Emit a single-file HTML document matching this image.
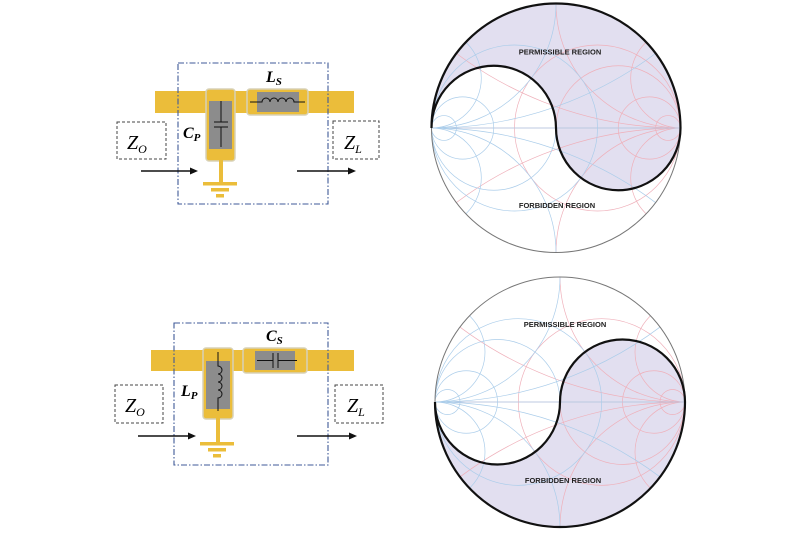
<!DOCTYPE html>
<html><head><meta charset="utf-8"><style>
html,body{margin:0;padding:0;background:#fff;width:800px;height:533px;overflow:hidden;}
svg{display:block;}
</style></head><body>
<svg width="800" height="533" viewBox="0 0 800 533" xmlns="http://www.w3.org/2000/svg">
<defs>
<clipPath id="uc"><circle cx="0" cy="0" r="1"/></clipPath>
<g id="imp" fill="none">
  <circle cx="0.3333" cy="0" r="0.6667" vector-effect="non-scaling-stroke"/>
  <circle cx="0.5" cy="0" r="0.5" vector-effect="non-scaling-stroke"/>
  <circle cx="0.75" cy="0" r="0.25" vector-effect="non-scaling-stroke"/>
  <circle cx="0.9" cy="0" r="0.1" vector-effect="non-scaling-stroke"/>
  <circle cx="1" cy="3" r="3" vector-effect="non-scaling-stroke"/>
  <circle cx="1" cy="-3" r="3" vector-effect="non-scaling-stroke"/>
  <circle cx="1" cy="1" r="1" vector-effect="non-scaling-stroke"/>
  <circle cx="1" cy="-1" r="1" vector-effect="non-scaling-stroke"/>
  <circle cx="1" cy="0.4" r="0.4" vector-effect="non-scaling-stroke"/>
  <circle cx="1" cy="-0.4" r="0.4" vector-effect="non-scaling-stroke"/>
  <line x1="-1" y1="0" x2="1" y2="0" vector-effect="non-scaling-stroke"/>
</g>
<g id="grid" clip-path="url(#uc)">
  <use href="#imp" stroke="#efb0ba" stroke-width="0.7"/>
  <use href="#imp" stroke="#abcdea" stroke-width="0.7" transform="scale(-1,1)"/>
</g>
</defs>

<!-- TOP SMITH -->
<g transform="translate(556,128) scale(124.5)">
  <path d="M -1 0 A 1 1 0 0 1 1 0 A 0.5 0.5 0 0 1 0 0 A 0.5 0.5 0 0 0 -1 0 Z" fill="#e2dff0"/>
  <use href="#grid"/>
  <circle cx="0" cy="0" r="1" fill="none" stroke="#777" stroke-width="1" vector-effect="non-scaling-stroke"/>
  <path d="M -1 0 A 1 1 0 0 1 1 0 A 0.5 0.5 0 0 1 0 0 A 0.5 0.5 0 0 0 -1 0 Z" fill="none" stroke="#111" stroke-width="2.2" vector-effect="non-scaling-stroke"/>
</g>
<text x="560" y="54.5" font-family="Liberation Sans, sans-serif" font-size="7.5" font-weight="bold" fill="#222" text-anchor="middle">PERMISSIBLE REGION</text>
<text x="557" y="208" font-family="Liberation Sans, sans-serif" font-size="7.5" font-weight="bold" fill="#222" text-anchor="middle">FORBIDDEN REGION</text>

<!-- BOTTOM SMITH -->
<g transform="translate(560,402) scale(125)">
  <path d="M -1 0 A 1 1 0 0 0 1 0 A 0.5 0.5 0 0 0 0 0 A 0.5 0.5 0 0 1 -1 0 Z" fill="#e2dff0"/>
  <use href="#grid"/>
  <circle cx="0" cy="0" r="1" fill="none" stroke="#777" stroke-width="1" vector-effect="non-scaling-stroke"/>
  <path d="M -1 0 A 1 1 0 0 0 1 0 A 0.5 0.5 0 0 0 0 0 A 0.5 0.5 0 0 1 -1 0 Z" fill="none" stroke="#111" stroke-width="2.2" vector-effect="non-scaling-stroke"/>
</g>
<text x="565" y="327" font-family="Liberation Sans, sans-serif" font-size="7.5" font-weight="bold" fill="#222" text-anchor="middle">PERMISSIBLE REGION</text>
<text x="563" y="483" font-family="Liberation Sans, sans-serif" font-size="7.5" font-weight="bold" fill="#222" text-anchor="middle">FORBIDDEN REGION</text>

<!-- TOP CIRCUIT -->
<g>
  <rect x="155" y="91" width="199" height="22" fill="#ebbd3a"/>
  <rect x="206" y="89" width="29" height="72" rx="3" fill="#ebbd3a" stroke="#d8d2b8" stroke-width="1.5"/>
  <rect x="209" y="101" width="23" height="48" fill="#8c8c8c"/>
  <line x1="221" y1="101" x2="221" y2="122" stroke="#111" stroke-width="1"/>
  <line x1="214" y1="122" x2="228" y2="122" stroke="#111" stroke-width="1"/>
  <line x1="214" y1="127" x2="228" y2="127" stroke="#111" stroke-width="1"/>
  <line x1="221" y1="127" x2="221" y2="147" stroke="#111" stroke-width="1"/>
  <rect x="219" y="160" width="4" height="23" fill="#ebbd3a"/>
  <rect x="203" y="182" width="34" height="3.5" fill="#ebbd3a"/>
  <rect x="211" y="188" width="18" height="3.5" fill="#ebbd3a"/>
  <rect x="216" y="194" width="8" height="3.5" fill="#ebbd3a"/>
  <rect x="247" y="89" width="61" height="26" rx="3" fill="#ebbd3a" stroke="#d8d2b8" stroke-width="1.5"/>
  <rect x="257" y="92" width="42" height="20" fill="#8c8c8c"/>
  <path d="M250 102 H262 a4 4 0 0 1 8 0 a4 4 0 0 1 8 0 a4 4 0 0 1 8 0 a4 4 0 0 1 8 0 H305" fill="none" stroke="#111" stroke-width="1"/>
  <rect x="178" y="63" width="150" height="141" fill="none" stroke="#3f5a98" stroke-width="1.1" stroke-dasharray="6,2,1.5,2"/>
  <rect x="117" y="122" width="49" height="37" fill="none" stroke="#444" stroke-width="1" stroke-dasharray="3,2"/>
  <rect x="333" y="121" width="46" height="38" fill="none" stroke="#444" stroke-width="1" stroke-dasharray="3,2"/>
  <text x="127" y="149" font-family="Liberation Serif, serif" font-size="20" font-style="italic">Z<tspan font-size="12" dy="4">O</tspan></text>
  <text x="344" y="149" font-family="Liberation Serif, serif" font-size="20" font-style="italic">Z<tspan font-size="12" dy="4">L</tspan></text>
  <text x="266" y="82" font-family="Liberation Serif, serif" font-size="16" font-style="italic" font-weight="bold">L<tspan font-size="11" dy="3">S</tspan></text>
  <text x="183" y="138" font-family="Liberation Serif, serif" font-size="16" font-style="italic" font-weight="bold">C<tspan font-size="11" dy="3">P</tspan></text>
  <line x1="141" y1="171" x2="192" y2="171" stroke="#111" stroke-width="1.5"/>
  <polygon points="198,171 190,167.5 190,174.5" fill="#111"/>
  <line x1="297" y1="171" x2="350" y2="171" stroke="#111" stroke-width="1.5"/>
  <polygon points="356,171 348,167.5 348,174.5" fill="#111"/>
</g>

<!-- BOTTOM CIRCUIT -->
<g>
  <rect x="151" y="350" width="203" height="21" fill="#ebbd3a"/>
  <rect x="203" y="348" width="30" height="71" rx="3" fill="#ebbd3a" stroke="#d8d2b8" stroke-width="1.5"/>
  <rect x="206" y="361" width="24" height="48" fill="#8c8c8c"/>
  <path d="M218 352 V366 a4 4 0 0 1 0 8 a4 4 0 0 1 0 8 a4 4 0 0 1 0 8 a4 4 0 0 1 0 8 V411" fill="none" stroke="#111" stroke-width="1"/>
  <rect x="216" y="418" width="4" height="25" fill="#ebbd3a"/>
  <rect x="200" y="442" width="34" height="3.5" fill="#ebbd3a"/>
  <rect x="208" y="448" width="18" height="3.5" fill="#ebbd3a"/>
  <rect x="213" y="454" width="8" height="3.5" fill="#ebbd3a"/>
  <rect x="243" y="348" width="64" height="25" rx="3" fill="#ebbd3a" stroke="#d8d2b8" stroke-width="1.5"/>
  <rect x="255" y="351" width="40" height="19" fill="#8c8c8c"/>
  <line x1="257" y1="360.5" x2="273" y2="360.5" stroke="#111" stroke-width="1"/>
  <line x1="273" y1="353" x2="273" y2="368" stroke="#111" stroke-width="1"/>
  <line x1="278" y1="353" x2="278" y2="368" stroke="#111" stroke-width="1"/>
  <line x1="278" y1="360.5" x2="297" y2="360.5" stroke="#111" stroke-width="1"/>
  <rect x="174" y="323" width="154" height="142" fill="none" stroke="#3f5a98" stroke-width="1.1" stroke-dasharray="6,2,1.5,2"/>
  <rect x="115" y="385" width="48" height="38" fill="none" stroke="#444" stroke-width="1" stroke-dasharray="3,2"/>
  <rect x="335" y="385" width="48" height="38" fill="none" stroke="#444" stroke-width="1" stroke-dasharray="3,2"/>
  <text x="125" y="412" font-family="Liberation Serif, serif" font-size="20" font-style="italic">Z<tspan font-size="12" dy="4">O</tspan></text>
  <text x="347" y="412" font-family="Liberation Serif, serif" font-size="20" font-style="italic">Z<tspan font-size="12" dy="4">L</tspan></text>
  <text x="266" y="341" font-family="Liberation Serif, serif" font-size="16" font-style="italic" font-weight="bold">C<tspan font-size="11" dy="3">S</tspan></text>
  <text x="181" y="396" font-family="Liberation Serif, serif" font-size="16" font-style="italic" font-weight="bold">L<tspan font-size="11" dy="3">P</tspan></text>
  <line x1="138" y1="436" x2="190" y2="436" stroke="#111" stroke-width="1.5"/>
  <polygon points="196,436 188,432.5 188,439.5" fill="#111"/>
  <line x1="297" y1="436" x2="351" y2="436" stroke="#111" stroke-width="1.5"/>
  <polygon points="357,436 349,432.5 349,439.5" fill="#111"/>
</g>
</svg>
</body></html>
